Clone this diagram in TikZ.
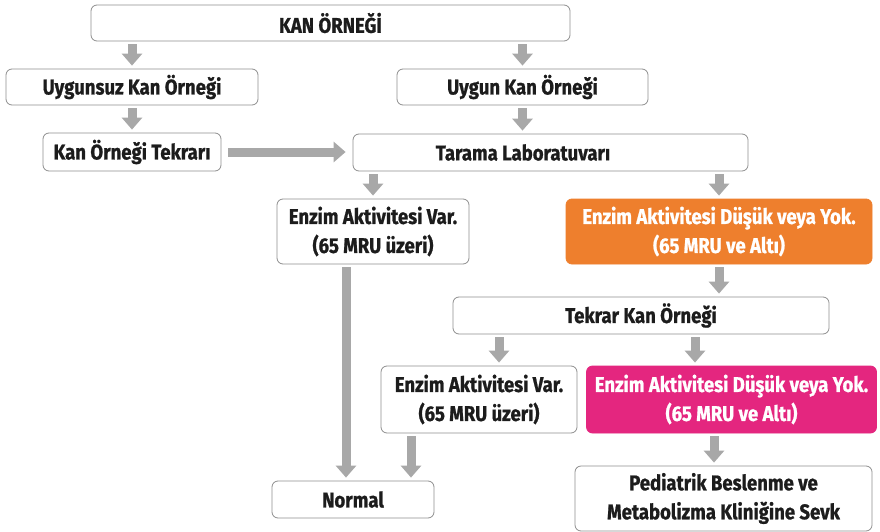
\documentclass[tikz,border=0pt]{standalone}
\usepackage{fontspec}
\setmainfont{Fira Sans}[FakeStretch=0.87, BoldFeatures={FakeBold=0.9}]
\usetikzlibrary{arrows.meta}
\definecolor{bord}{HTML}{8E8E8E}
\definecolor{arr}{HTML}{A8A8A8}
\definecolor{org}{HTML}{EE7F2D}
\definecolor{pnk}{HTML}{E4267F}
\definecolor{ink}{HTML}{1C1C1C}
\begin{document}
\begin{tikzpicture}[x=1pt,y=-1pt,
  box/.style={draw=bord, line width=0.8pt, rounded corners=6pt, fill=white, inner sep=0pt,
    align=center, font=\fontsize{21.3}{29}\selectfont\bfseries, text=ink},
  lbl/.style={inner sep=0pt, align=center, font=\fontsize{21.3}{29}\selectfont\bfseries, text=ink},
  orangebox/.style={box, draw=org, fill=org, text=white},
  pinkbox/.style={box, draw=pnk, fill=pnk, text=white},
  blk/.style={draw=arr, line width=9pt, -{Triangle[width=20pt,length=12pt]}, shorten <=3pt, shorten >=3pt}
]
\useasboundingbox[fill=white] (0,0) rectangle (880,532);

\node[box, minimum width=479, minimum height=36] (kan) at (330.5,23) {KAN ÖRNEĞİ};
\node[box, minimum width=252, minimum height=36] (suz) at (132,87) {Uygunsuz Kan Örneği};
\node[box, minimum width=251, minimum height=36] (uygun) at (522.5,87) {Uygun Kan Örneği};
\node[box, minimum width=178, minimum height=38] (tekrari) at (132,152) {Kan Örneği Tekrarı};
\node[box, minimum width=395, minimum height=37] (tarama) at (550.5,152.5) {};
\node[lbl] (taramatxt) at (523,152.5) {Tarama Laboratuvarı};
\node[box, minimum width=192, minimum height=65] (var1) at (373,231.5) {Enzim Aktivitesi Var.\\(65 MRU üzeri)};
\node[orangebox, minimum width=306, minimum height=65] (org1) at (719,231.5) {Enzim Aktivitesi Düşük veya Yok.\\(65 MRU ve Altı)};
\node[box, minimum width=376, minimum height=37] (tekrar) at (641,315.5) {Tekrar Kan Örneği};
\node[box, minimum width=196, minimum height=67] (var2) at (479,399.5) {Enzim Aktivitesi Var.\\(65 MRU üzeri)};
\node[pinkbox, minimum width=290, minimum height=67] (pnk1) at (731.5,399.5) {Enzim Aktivitesi Düşük veya Yok.\\(65 MRU ve Altı)};
\node[box, minimum width=162, minimum height=37] (normal) at (353,499.5) {Normal};
\node[box, minimum width=297, minimum height=65] (sevk) at (723.5,498.5) {Pediatrik Beslenme ve\\Metabolizma Kliniğine Sevk};

\coordinate (v1out) at ([xshift=-27pt]var1.south);
\coordinate (v2in) at ([xshift=20pt]var2.north);
\coordinate (v2out) at ([xshift=-68pt]var2.south);
\coordinate (p1in) at ([xshift=-36.5pt]pnk1.north);
\coordinate (p1out) at ([xshift=-17.5pt]pnk1.south);

\draw[blk] (kan.south -| suz.north) -- (suz.north);
\draw[blk] (kan.south -| uygun.north) -- (uygun.north);
\draw[blk] (suz.south) -- (suz.south |- tekrari.north);
\draw[blk] (uygun.south) -- (uygun.south |- tarama.north);
\draw[blk, shorten <=7pt, shorten >=7pt] (tekrari.east) -- (tekrari.east -| tarama.west);
\draw[blk] (tarama.south -| var1.north) -- (var1.north);
\draw[blk] (tarama.south -| org1.north) -- (org1.north);
\draw[blk] (org1.south) -- (org1.south |- tekrar.north);
\draw[blk] (v1out) -- (v1out |- normal.north);
\draw[blk] (tekrar.south -| v2in) -- (v2in);
\draw[blk] (tekrar.south -| p1in) -- (p1in);
\draw[blk] (v2out) -- (v2out |- normal.north);
\draw[blk] (p1out) -- (p1out |- sevk.north);
\end{tikzpicture}
\end{document}
